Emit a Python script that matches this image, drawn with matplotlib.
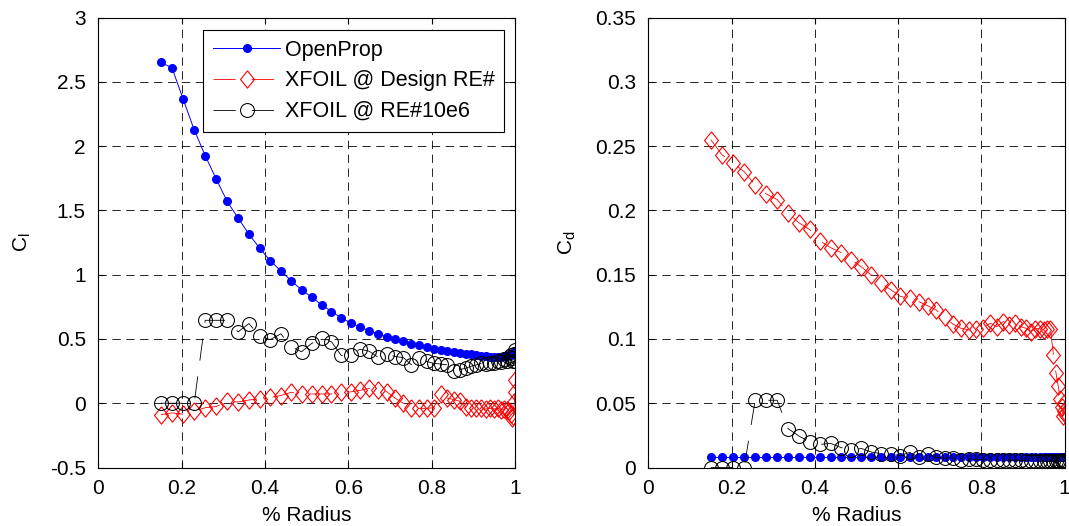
import matplotlib
matplotlib.use('Agg')
import matplotlib.pyplot as plt
from matplotlib.ticker import FuncFormatter

plt.rcParams['font.family'] = ['Liberation Sans', 'DejaVu Sans']
plt.rcParams['lines.scale_dashes'] = False

# radial stations (r/R), same for all three series
r = [0.1500, 0.1767, 0.2034, 0.2300, 0.2565, 0.2830, 0.3093, 0.3354, 0.3614, 0.3871,
     0.4127, 0.4379, 0.4629, 0.4876, 0.5119, 0.5359, 0.5595, 0.5827, 0.6055, 0.6278,
     0.6496, 0.6710, 0.6918, 0.7121, 0.7319, 0.7510, 0.7696, 0.7876, 0.8049, 0.8216,
     0.8377, 0.8530, 0.8677, 0.8816, 0.8949, 0.9074, 0.9191, 0.9301, 0.9403, 0.9497,
     0.9584, 0.9662, 0.9733, 0.9795, 0.9850, 0.9895, 0.9933, 0.9962, 0.9983, 0.9996,
     1.0000]

# lift coefficient
cl_openprop = [2.651, 2.609, 2.366, 2.127, 1.925, 1.743, 1.569, 1.440, 1.315, 1.206,
               1.107, 1.030, 0.952, 0.882, 0.825, 0.765, 0.713, 0.665, 0.624, 0.592,
               0.565, 0.540, 0.518, 0.498, 0.481, 0.464, 0.449, 0.435, 0.425, 0.416,
               0.408, 0.400, 0.393, 0.386, 0.380, 0.374, 0.369, 0.365, 0.362, 0.361,
               0.361, 0.362, 0.364, 0.368, 0.372, 0.378, 0.384, 0.390, 0.396, 0.400,
               0.405]
cl_design = [-0.090, -0.075, -0.085, -0.060, -0.035, -0.025, 0.015, 0.010, 0.025, 0.035,
             0.045, 0.060, 0.085, 0.070, 0.072, 0.072, 0.072, 0.085, 0.088, 0.100,
             0.115, 0.100, 0.090, 0.040, 0.000, -0.035, -0.040, -0.040, -0.035, 0.075,
             0.040, 0.028, 0.015, -0.030, -0.035, -0.040, -0.040, -0.045, -0.040, -0.045,
             -0.040, -0.050, -0.045, -0.055, -0.060, -0.080, -0.115, -0.100, 0.010, 0.090,
             0.180]
cl_re10e6 = [0.000, 0.000, 0.000, 0.000, 0.645, 0.645, 0.645, 0.555, 0.620, 0.520,
             0.495, 0.540, 0.440, 0.400, 0.465, 0.505, 0.478, 0.372, 0.378, 0.420,
             0.405, 0.358, 0.383, 0.363, 0.355, 0.300, 0.348, 0.325, 0.310, 0.305,
             0.298, 0.248, 0.262, 0.272, 0.288, 0.298, 0.310, 0.305, 0.315, 0.310,
             0.330, 0.320, 0.345, 0.330, 0.360, 0.375, 0.350, 0.325, 0.385, 0.415,
             0.330]

# drag coefficient
cd_openprop = [0.0083, 0.0083, 0.0083, 0.0083, 0.0083, 0.0083, 0.0083, 0.0083, 0.0083, 0.0083,
               0.0083, 0.0083, 0.0083, 0.0083, 0.0083, 0.0083, 0.0083, 0.0083, 0.0083, 0.0083,
               0.0083, 0.0083, 0.0083, 0.0083, 0.0083, 0.0083, 0.0083, 0.0083, 0.0083, 0.0083,
               0.0083, 0.0083, 0.0083, 0.0083, 0.0083, 0.0083, 0.0083, 0.0083, 0.0083, 0.0083,
               0.0083, 0.0083, 0.0083, 0.0083, 0.0083, 0.0083, 0.0083, 0.0083, 0.0083, 0.0083,
               0.0083]
cd_design = [0.2549, 0.2433, 0.2368, 0.2301, 0.2198, 0.2128, 0.2084, 0.1981, 0.1904, 0.1852,
             0.1762, 0.1710, 0.1672, 0.1615, 0.1560, 0.1496, 0.1432, 0.1382, 0.1331, 0.1318,
             0.1290, 0.1258, 0.1225, 0.1170, 0.1115, 0.1083, 0.1070, 0.1076, 0.1083, 0.1122,
             0.1096, 0.1135, 0.1110, 0.1122, 0.1096, 0.1083, 0.1057, 0.1080, 0.1080, 0.1070,
             0.1080, 0.1080, 0.0877, 0.0735, 0.0632, 0.0530, 0.0470, 0.0400, 0.0440, 0.0500,
             0.0420]
cd_re10e6 = [0.0000, 0.0000, 0.0000, 0.0000, 0.0523, 0.0523, 0.0523, 0.0303, 0.0245, 0.0201,
             0.0180, 0.0188, 0.0155, 0.0136, 0.0148, 0.0120, 0.0108, 0.0106, 0.0092, 0.0118,
             0.0082, 0.0108, 0.0078, 0.0072, 0.0076, 0.0062, 0.0068, 0.0063, 0.0060, 0.0058,
             0.0057, 0.0055, 0.0058, 0.0056, 0.0055, 0.0054, 0.0052, 0.0053, 0.0050, 0.0051,
             0.0049, 0.0050, 0.0048, 0.0047, 0.0050, 0.0046, 0.0048, 0.0045, 0.0052, 0.0060,
             0.0047]

labels = ['OpenProp', 'XFOIL @ Design RE#', 'XFOIL @ RE#10e6']

fs = 15
dash_data = (16, 11.5)
# matlab style diamond, a bit taller than wide
diamond = [(0, 1), (0.8, 0), (0, -1), (-0.8, 0), (0, 1)]


def matlabstyle(ax):
    ax.tick_params(direction='in', top=True, right=True, length=4, width=0.8,
                   labelsize=fs)
    ax.tick_params(axis='x', pad=8)
    ax.tick_params(axis='y', pad=9)
    for s in ['top', 'bottom', 'left', 'right']:
        ax.spines[s].set_linewidth(0.8)
    ax.grid(True, color='k', lw=0.6, ls='--', dashes=(6, 4))
    ax.set_axisbelow(True)
    ax.xaxis.set_major_formatter(FuncFormatter(lambda v, p: '%g' % round(v, 4)))
    ax.yaxis.set_major_formatter(FuncFormatter(lambda v, p: '%g' % round(v, 4)))


def threeseries(ax, y_op, y_des, y_re):
    ax.plot(r, y_op, '-o', color='b', lw=0.7, ms=5.5, mfc='b', mec='b', label=labels[0])
    ax.plot(r, y_des, color='r', ls='--', dashes=dash_data, lw=0.6, marker=diamond,
            ms=12.5, mfc='none', mec='r', mew=0.8, label=labels[1])
    ax.plot(r, y_re, color='k', ls='--', dashes=dash_data, lw=0.6, marker='o', ms=10.0,
            mfc='none', mec='k', mew=0.75, label=labels[2])


fig = plt.figure(figsize=(10.69, 5.26), dpi=100)
ax1 = fig.add_axes([0.092, 0.1112, 0.3898, 0.8555])
ax2 = fig.add_axes([0.6066, 0.1112, 0.3892, 0.8555])

threeseries(ax1, cl_openprop, cl_design, cl_re10e6)
threeseries(ax2, cd_openprop, cd_design, cd_re10e6)

ax1.set_xlim(0, 1)
ax1.set_ylim(-0.5, 3)
ax1.set_xticks([0, 0.2, 0.4, 0.6, 0.8, 1])
ax1.set_yticks([-0.5, 0, 0.5, 1, 1.5, 2, 2.5, 3])
ax2.set_xlim(0, 1)
ax2.set_ylim(0, 0.35)
ax2.set_xticks([0, 0.2, 0.4, 0.6, 0.8, 1])
ax2.set_yticks([0, 0.05, 0.1, 0.15, 0.2, 0.25, 0.3, 0.35])

for ax in [ax1, ax2]:
    matlabstyle(ax)
    ax.set_xlabel('% Radius', fontsize=fs)
    ax.xaxis.set_label_coords(0.5, -0.085)

ax1.set_ylabel(r'$\mathregular{C_l}$', fontsize=fs)
ax1.yaxis.set_label_coords(-0.157, 0.5)
ax2.set_ylabel(r'$\mathregular{C_d}$', fontsize=fs)
ax2.yaxis.set_label_coords(-0.169, 0.5)

leg = ax1.legend(loc='upper left', bbox_to_anchor=(0.251, 0.972), fontsize=15.5,
                 numpoints=1, handlelength=3.15, handletextpad=0.2, labelspacing=0.45,
                 borderpad=0.45, borderaxespad=0, fancybox=False, framealpha=1)
leg.get_frame().set_edgecolor('k')
leg.get_frame().set_linewidth(0.8)

fig.savefig('out.png', dpi=100)
